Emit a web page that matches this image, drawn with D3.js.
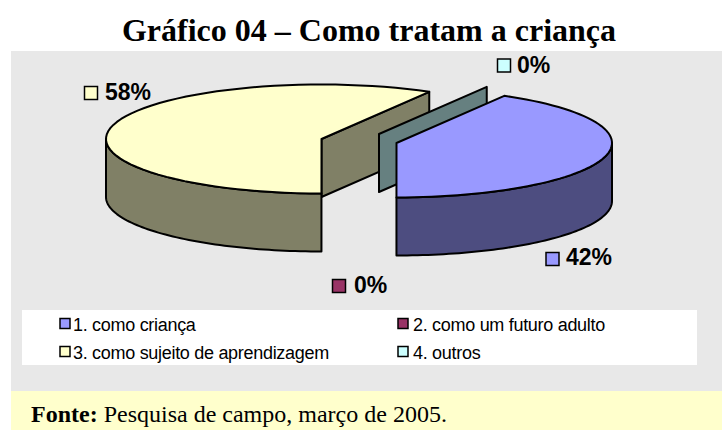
<!DOCTYPE html>
<html><head><meta charset="utf-8">
<script src="https://cdn.jsdelivr.net/npm/d3@7"></script>
<style>html,body{margin:0;padding:0;background:#fff}svg{display:block}</style></head>
<body><svg id="c" width="722" height="430"></svg>
<script>
const categories = ["1. como criança","2. como um futuro adulto","3. como sujeito de aprendizagem","4. outros"];
const values = [41.67,0,58.33,0];
const topColors = ["#9999FF","#993366","#FFFFCC","#CCFFFF"];
const sideColors = ["#4D4D80","#4D1A33","#808066","#668080"];
const titleText = "Gráfico 04 – Como tratam a criança";
const sourceBold = "Fonte:";
const sourceText = " Pesquisa de campo, março de 2005.";

const svg = d3.select("#c");
const W=722,H=430;
svg.append("rect").attr("x",11).attr("y",51).attr("width",W-11).attr("height",340).attr("fill","#E8E8E8");
svg.append("rect").attr("x",11).attr("y",391).attr("width",W-11).attr("height",39).attr("fill","#FFFFCC");
svg.append("rect").attr("x",22).attr("y",310).attr("width",675).attr("height",55).attr("fill","#fff");
svg.append("text").attr("x",369).attr("y",41).attr("text-anchor","middle")
  .attr("font-family","Liberation Serif").attr("font-weight","bold").attr("font-size",32).text(titleText);
const src=svg.append("text").attr("x",31).attr("y",421.5).attr("font-family","Liberation Serif").attr("font-size",24);
src.append("tspan").attr("font-weight","bold").text(sourceBold);
src.append("tspan").text(sourceText);

const rx=215.5,ry=54.5,depth=58;
const sx=d3.scaleLinear().domain([-1,1]).range([-rx,rx]);
const sy=d3.scaleLinear().domain([-1,1]).range([-ry,ry]);
const startA=30*Math.PI/180;
const arcs=d3.pie().sort(null).startAngle(startA).endAngle(startA+2*Math.PI)(values);
const offs=[[396.5,143],[396.5,143],[321.5,139],[379,134]];
const P=(a,o)=>[o[0]+sx(Math.sin(a)),o[1]+sy(-Math.cos(a))];
const line=d3.line();
const sample=(a0,a1,o,dy=0)=>d3.range(0,65).map(i=>{const a=a0+(a1-a0)*i/64;const p=P(a,o);return [p[0],p[1]+dy];});
function poly(pts,fill){return svg.append("path").attr("d",line(pts)+"Z").attr("fill",fill)
  .attr("stroke","#000").attr("stroke-width",2).attr("stroke-linejoin","round");}

function drawSlice(i){
  const d=arcs[i],o=offs[i];
  const a0=d.startAngle,a1=d.endAngle;
  // cut wall at the slice's end angle, which faces the viewer here
  if(i!==0){
    const e=P(a1,o);
    poly([o,e,[e[0],e[1]+depth],[o[0],o[1]+depth]],sideColors[i]);
  }
  if(a1-a0<1e-6) return;
  const v0=Math.max(a0,Math.PI/2),v1=Math.min(a1,3*Math.PI/2);
  poly(sample(v0,v1,o).concat(sample(v0,v1,o,depth).reverse()),sideColors[i]);
  poly([o].concat(sample(a0,a1,o)),topColors[i]);
}
// paint order: back to front
drawSlice(2);drawSlice(3);drawSlice(0);

const key=(x,y,s,c,sw)=>svg.append("rect").attr("x",x).attr("y",y).attr("width",s).attr("height",s).attr("fill",c).attr("stroke","#000").attr("stroke-width",sw);
const lab=(x,y,t)=>svg.append("text").attr("x",x).attr("y",y).attr("font-family","Liberation Sans").attr("font-weight","bold").attr("font-size",23).attr("fill","#000").text(t);
const labels=[[546,252.5,566,265,0],[332.5,279.5,354,293,1],[84.5,86.5,105,100,2],[497.5,59,517,72.5,3]];
labels.forEach(l=>{key(l[0],l[1],13,topColors[l[4]],1.5);lab(l[2],l[3],Math.round(values[l[4]])+"%");});

const leg=[[60,318.5,73,0],[398,318.5,413,1],[60,346.5,73,2],[398,346.5,413,3]];
leg.forEach(l=>{key(l[0],l[1],10,topColors[l[3]],1.5);
  svg.append("text").attr("x",l[2]).attr("y",l[1]+12.5).attr("font-family","Liberation Sans").attr("font-size",18).attr("letter-spacing","-0.3").text(categories[l[3]]);});
</script></body></html>
